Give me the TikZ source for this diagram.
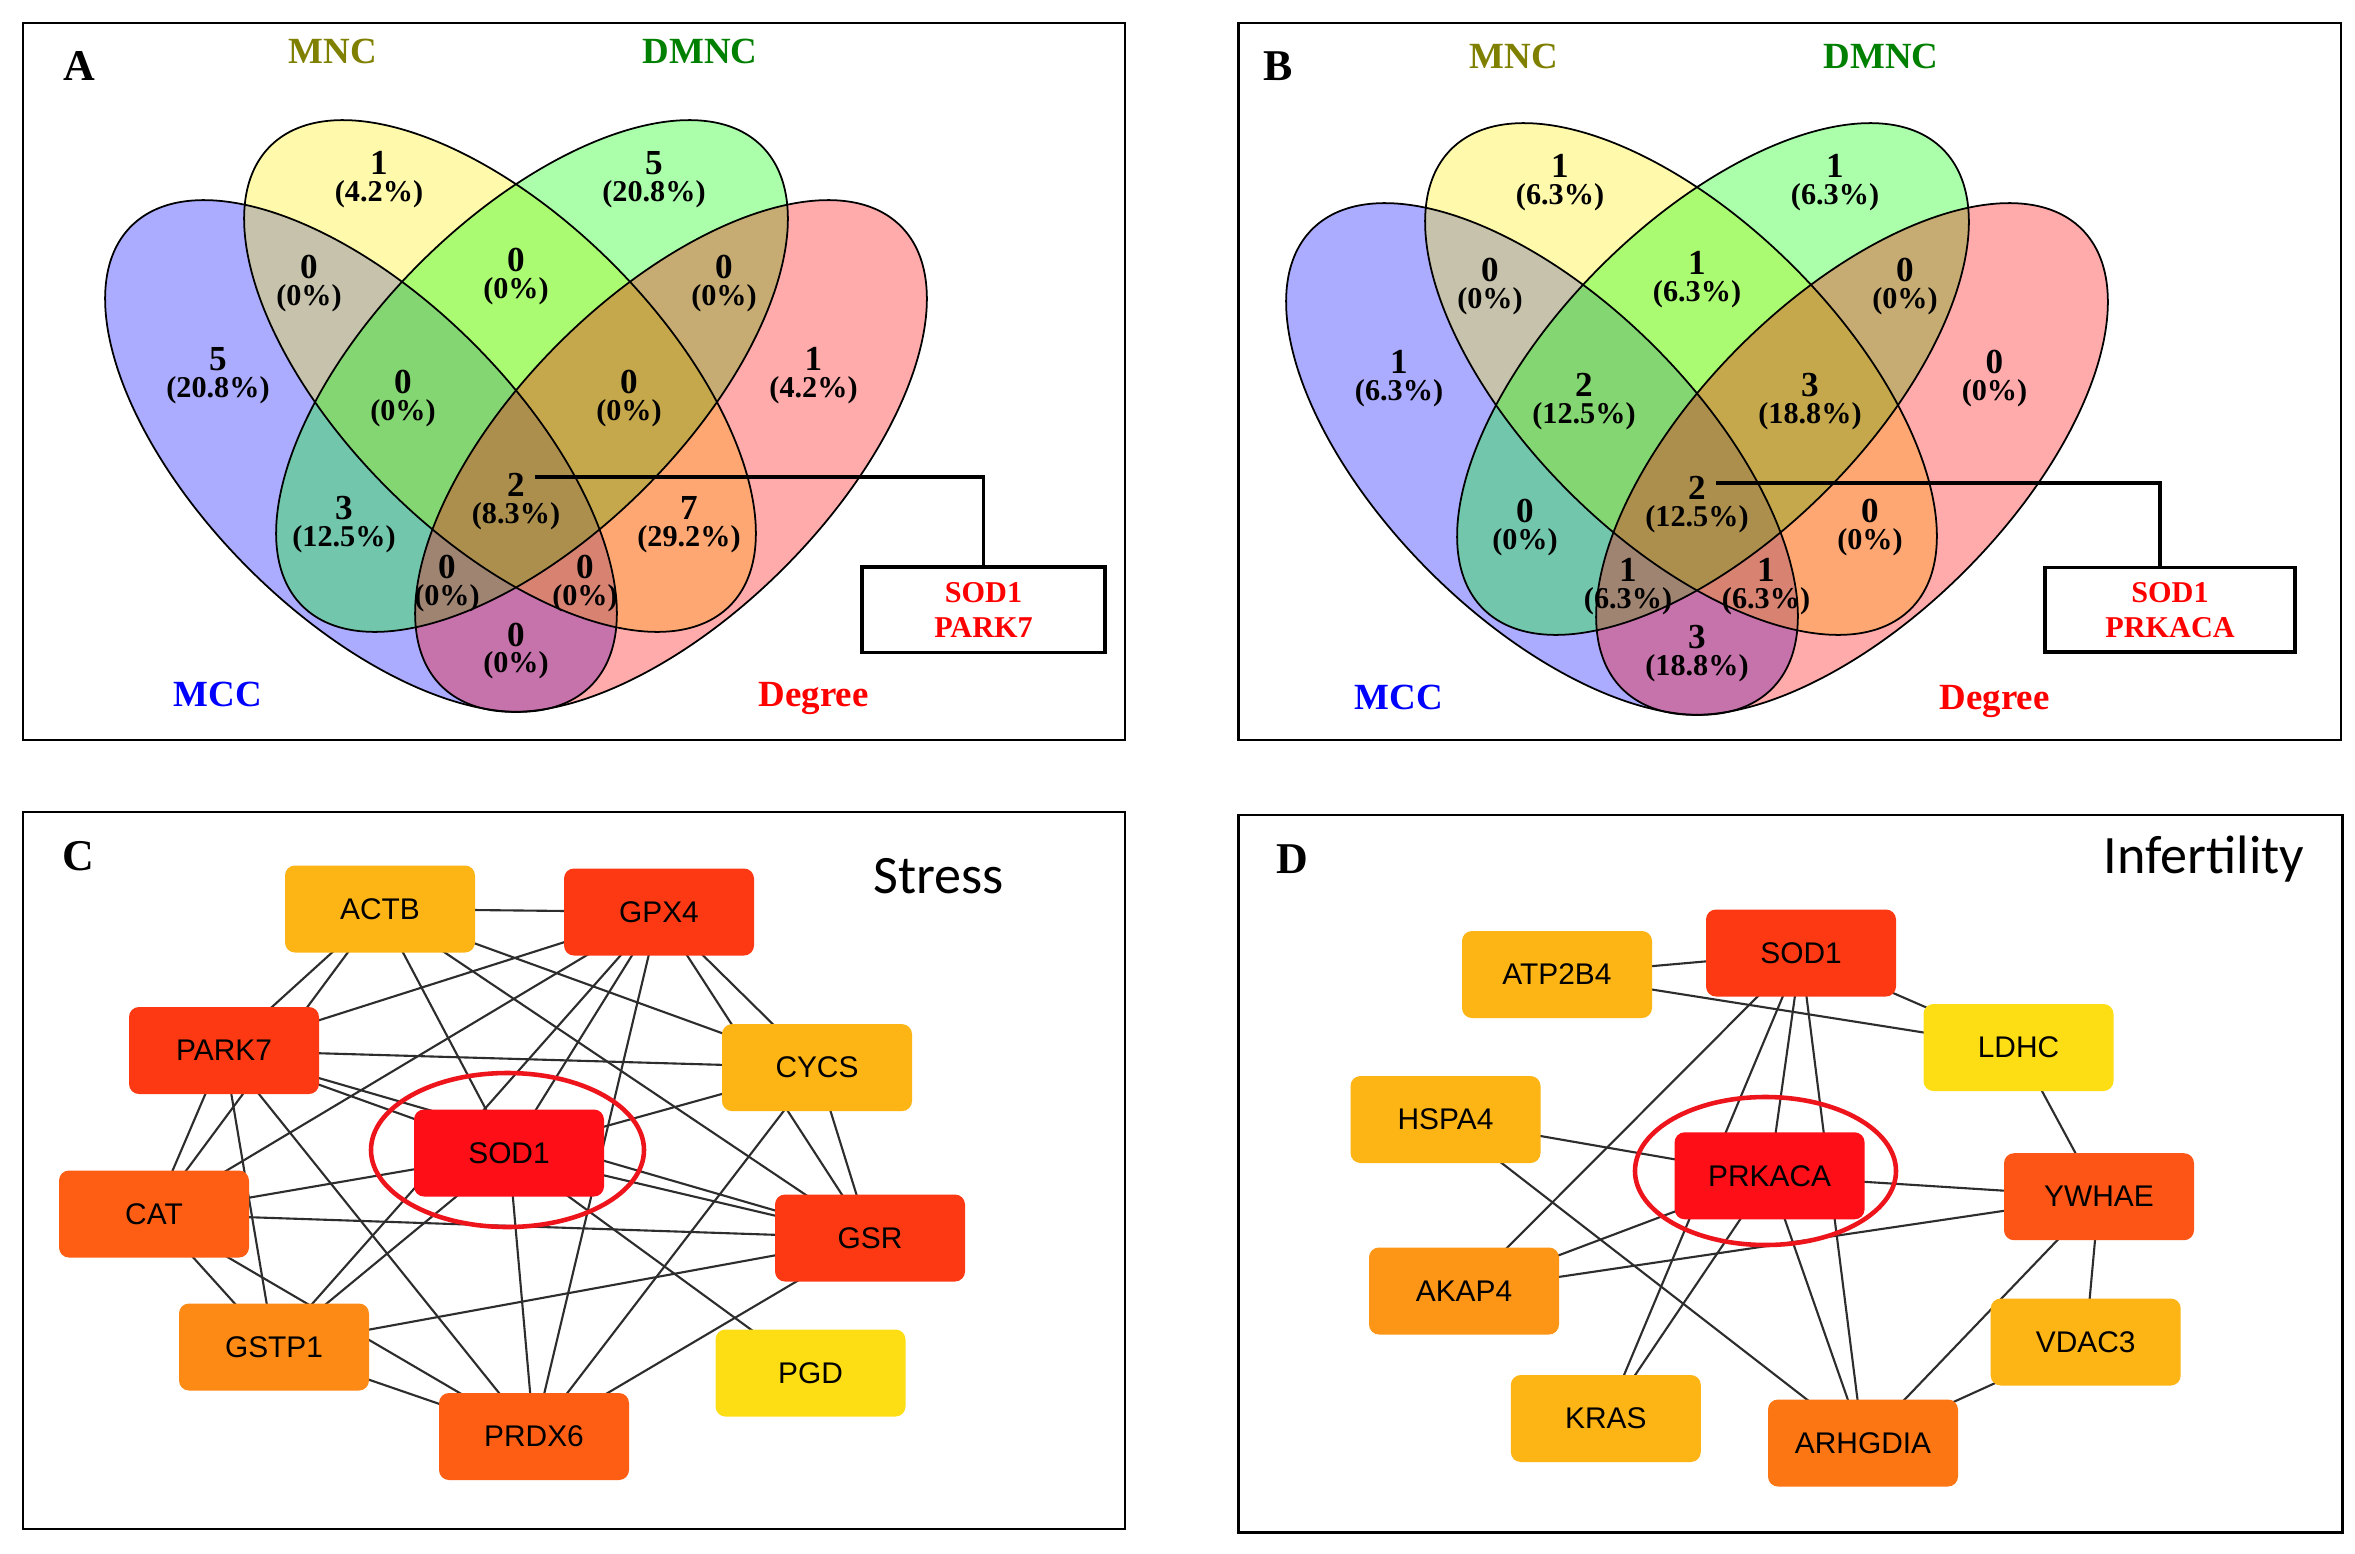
\documentclass[tikz,border=0pt]{standalone}
\usepackage{fontspec}
\setmainfont{Liberation Serif}
\newfontfamily\arialf{Liberation Sans}
\newfontfamily\calf{Carlito}
\usetikzlibrary{shapes.geometric}
\pgfdeclarelayer{bglayer}
\pgfdeclarelayer{edgelayer}
\pgfsetlayers{bglayer,edgelayer,main}

\definecolor{cRed}{RGB}{254,14,22}
\definecolor{cRO}{RGB}{253,57,20}
\definecolor{cOR}{RGB}{253,94,20}
\definecolor{cYW}{RGB}{253,85,22}
\definecolor{cOR2}{RGB}{253,118,20}
\definecolor{cOr}{RGB}{253,138,20}
\definecolor{cOr2}{RGB}{253,150,22}
\definecolor{cYO}{RGB}{253,181,21}
\definecolor{cYe}{RGB}{253,222,20}
\definecolor{olivelab}{RGB}{128,128,0}
\definecolor{greenlab}{RGB}{0,128,0}
\definecolor{edgecol}{RGB}{45,45,45}
\definecolor{ringred}{RGB}{238,20,28}

\tikzset{
 gene/.style={rectangle, rounded corners=1mm, minimum width=19mm, minimum height=8.7mm, inner sep=0pt, font=\arialf\fontsize{8.5}{9}\selectfont, text=black},
 netedge/.style={draw=edgecol, line width=0.6pt},
 hubring/.style={ellipse, draw=ringred, line width=1.3pt, inner sep=0pt},
 panelframe/.style={draw=black, line width=0.75pt},
 cnt/.style={font=\bfseries\fontsize{10}{10}\selectfont, inner sep=0pt},
 pct/.style={font=\bfseries\fontsize{8.6}{9}\selectfont, inner sep=0pt},
 setlab/.style={font=\bfseries\fontsize{10.5}{11}\selectfont, inner sep=0pt, anchor=base},
 panelletter/.style={font=\bfseries\fontsize{12.5}{13}\selectfont, inner sep=0pt, anchor=base},
 paneltitle/.style={font=\calf\fontsize{15.4}{16}\selectfont, inner sep=0pt, anchor=base},
 hitbox/.style={draw=black, line width=1pt, text=red, align=center, font=\bfseries\fontsize{8.6}{10}\selectfont, inner sep=0pt},
 leader/.style={draw=black, line width=0.9pt},
 vline/.style={draw=black, line width=0.5pt},
}

\newcommand{\vennellipses}{%
 \foreach \cx/\cy/\ang/\col in {361/456/-45/blue, 500/376/-45/yellow, 532/376/45/green, 671/456/45/red}{
   \fill[\col, fill opacity=0.33, rotate around={\ang:(\cx,\cy)}] (\cx,\cy) ellipse [x radius=325, y radius=159];
 }
 \foreach \cx/\cy/\ang in {361/456/-45, 500/376/-45, 532/376/45, 671/456/45}{
   \draw[vline, rotate around={\ang:(\cx,\cy)}] (\cx,\cy) ellipse [x radius=325, y radius=159];
 }
}
\newcommand{\vreg}[5]{%
 \node[cnt] (#1n) at (#2,#3) {#4};
 \node[pct] (#1p) at (#2,#3+31) {#5};
}

\begin{document}
\begin{tikzpicture}[x=0.1mm,y=-0.1mm]
\useasboundingbox (0,0) rectangle (2355,1554);
\begin{pgfonlayer}{bglayer}
\fill[white] (0,0) rectangle (2355,1554);
\end{pgfonlayer}

% ---------- frames ----------
\draw[panelframe] (23,23) rectangle (1125,740);
\draw[panelframe] (1238.5,23) rectangle (2341,740);
\draw[panelframe] (23,812) rectangle (1125,1529);
\draw[panelframe] (1238.5,815) rectangle (2342.5,1532.7);

\node[panelletter] (labA) at (79,80) {A};
\node[panelletter] (labB) at (1278,80) {B};
\node[panelletter] (labC) at (78.5,870) {C};
\node[panelletter] (labD) at (1292,873) {D};

% ---------- panel A ----------
\vennellipses
\node[setlab, text=olivelab] (AMNC) at (333,63) {MNC};
\node[setlab, text=greenlab] (ADMNC) at (700,63) {DMNC};
\node[setlab, text=blue] (AMCC) at (218,706) {MCC};
\node[setlab, text=red] (ADeg) at (813.5,706) {Degree};
\vreg{Ar1}{379}{163}{1}{(4.2\%)}
\vreg{Ar2}{654}{163}{5}{(20.8\%)}
\vreg{Ar3}{309}{267}{0}{(0\%)}
\vreg{Ar4}{516}{260}{0}{(0\%)}
\vreg{Ar5}{724}{267}{0}{(0\%)}
\vreg{Ar6}{218}{359}{5}{(20.8\%)}
\vreg{Ar7}{403}{382}{0}{(0\%)}
\vreg{Ar8}{629}{382}{0}{(0\%)}
\vreg{Ar9}{813.5}{359}{1}{(4.2\%)}
\vreg{Ar10}{344}{508}{3}{(12.5\%)}
\vreg{Ar11}{516}{485}{2}{(8.3\%)}
\vreg{Ar12}{689}{508}{7}{(29.2\%)}
\vreg{Ar13}{447}{567}{0}{(0\%)}
\vreg{Ar14}{585}{567}{0}{(0\%)}
\vreg{Ar15}{516}{634.5}{0}{(0\%)}
\node[hitbox, minimum width=24.3mm, minimum height=8.56mm] (Abox) at (983.5,609.8) {SOD1\\PARK7};
\coordinate (Alstart) at (535,477);
\coordinate (Acorner) at (983.5,477);
\draw[leader] (Alstart) -- (Acorner) -- (Abox.north);

% ---------- panel B ----------
\begin{scope}[shift={(1181,3)}]
\vennellipses
\node[setlab, text=olivelab] (BMNC) at (333,65) {MNC};
\node[setlab, text=greenlab] (BDMNC) at (700,65) {DMNC};
\node[setlab, text=blue] (BMCC) at (218,706) {MCC};
\node[setlab, text=red] (BDeg) at (813.5,706) {Degree};
\vreg{Br1}{379}{163}{1}{(6.3\%)}
\vreg{Br2}{654}{163}{1}{(6.3\%)}
\vreg{Br3}{309}{267}{0}{(0\%)}
\vreg{Br4}{516}{260}{1}{(6.3\%)}
\vreg{Br5}{724}{267}{0}{(0\%)}
\vreg{Br6}{218}{359}{1}{(6.3\%)}
\vreg{Br7}{403}{382}{2}{(12.5\%)}
\vreg{Br8}{629}{382}{3}{(18.8\%)}
\vreg{Br9}{813.5}{359}{0}{(0\%)}
\vreg{Br10}{344}{508}{0}{(0\%)}
\vreg{Br11}{516}{485}{2}{(12.5\%)}
\vreg{Br12}{689}{508}{0}{(0\%)}
\vreg{Br13}{447}{567}{1}{(6.3\%)}
\vreg{Br14}{585}{567}{1}{(6.3\%)}
\vreg{Br15}{516}{634.5}{3}{(18.8\%)}
\node[hitbox, minimum width=25mm, minimum height=8.45mm] (Bbox) at (989,606.8) {SOD1\\PRKACA};
\coordinate (Blstart) at (535,480);
\coordinate (Bcorner) at (979,480);
\draw[leader] (Blstart) -- (Bcorner) -- (Bcorner |- Bbox.north);
\end{scope}

% ---------- panel C ----------
\node[paneltitle] (Ctitle) at (938.7,893) {Stress};
\node[gene, fill=cYO] (CACTB) at (380,909) {ACTB};
\node[gene, fill=cRO] (CGPX4) at (659,912) {GPX4};
\node[gene, fill=cRO] (CPARK7) at (224,1050.5) {PARK7};
\node[gene, fill=cYO] (CCYCS) at (817,1067.6) {CYCS};
\node[gene, fill=cRed] (CSOD1) at (509,1153) {SOD1};
\node[gene, fill=cOR] (CCAT) at (154,1214) {CAT};
\node[gene, fill=cRO] (CGSR) at (870,1238) {GSR};
\node[gene, fill=cOr] (CGSTP1) at (274,1347) {GSTP1};
\node[gene, fill=cOR] (CPRDX6) at (534,1436.5) {PRDX6};
\node[gene, fill=cYe] (CPGD) at (810.5,1373) {PGD};
\begin{pgfonlayer}{edgelayer}
\foreach \a/\b in {ACTB/GPX4, ACTB/PARK7, ACTB/CAT, ACTB/SOD1, ACTB/GSR, ACTB/CYCS,
  GPX4/PARK7, GPX4/CAT, GPX4/SOD1, GPX4/GSTP1, GPX4/PRDX6, GPX4/CYCS, GPX4/GSR,
  PARK7/CYCS, PARK7/SOD1, PARK7/GSR, PARK7/CAT, PARK7/GSTP1, PARK7/PRDX6,
  SOD1/CYCS, SOD1/CAT, SOD1/GSTP1, SOD1/PRDX6, SOD1/PGD, SOD1/GSR,
  CAT/GSR, CAT/GSTP1, CAT/PRDX6, GSTP1/GSR, GSTP1/PRDX6, PRDX6/CYCS, PRDX6/GSR, CYCS/GSR}
  \draw[netedge] (C\a.center) -- (C\b.center);
\end{pgfonlayer}
\node[hubring, minimum width=27.3mm, minimum height=15.4mm] (Cring) at (507.5,1150) {};

% ---------- panel D ----------
\node[paneltitle] (Dtitle) at (2204,873) {Infertility};
\node[gene, fill=cYO] (DATP2B4) at (1557,974.5) {ATP2B4};
\node[gene, fill=cRO] (DSOD1) at (1801,953) {SOD1};
\node[gene, fill=cYe] (DLDHC) at (2018.5,1047.5) {LDHC};
\node[gene, fill=cYO] (DHSPA4) at (1445.5,1119.5) {HSPA4};
\node[gene, fill=cRed] (DPRKACA) at (1769.6,1175.8) {PRKACA};
\node[gene, fill=cYW] (DYWHAE) at (2099,1196.7) {YWHAE};
\node[gene, fill=cOr2] (DAKAP4) at (1464,1291) {AKAP4};
\node[gene, fill=cYO] (DVDAC3) at (2085.7,1342) {VDAC3};
\node[gene, fill=cYO] (DKRAS) at (1605.8,1418.5) {KRAS};
\node[gene, fill=cOR2] (DARHGDIA) at (1863,1443) {ARHGDIA};
\begin{pgfonlayer}{edgelayer}
\foreach \a/\b in {ATP2B4/SOD1, ATP2B4/LDHC, SOD1/LDHC, SOD1/AKAP4, SOD1/PRKACA, SOD1/KRAS, SOD1/ARHGDIA,
  PRKACA/KRAS, PRKACA/ARHGDIA, HSPA4/PRKACA, HSPA4/ARHGDIA, PRKACA/AKAP4, PRKACA/YWHAE,
  AKAP4/YWHAE, LDHC/YWHAE, YWHAE/VDAC3, YWHAE/ARHGDIA, VDAC3/ARHGDIA}
  \draw[netedge] (D\a.center) -- (D\b.center);
\end{pgfonlayer}
\node[hubring, minimum width=26.1mm, minimum height=14.8mm] (Dring) at (1765.5,1171) {};
\end{tikzpicture}
\end{document}
